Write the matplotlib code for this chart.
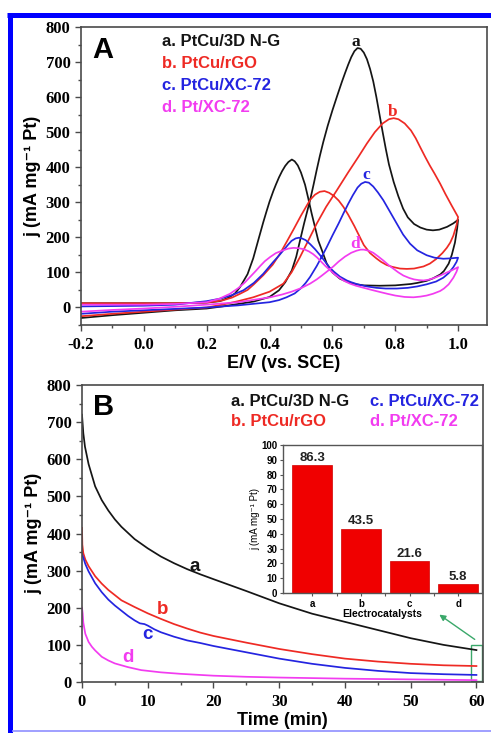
import matplotlib
matplotlib.use("Agg")
import matplotlib.pyplot as plt
from matplotlib.patches import Rectangle, FancyArrowPatch
from matplotlib.lines import Line2D
from matplotlib.ticker import MultipleLocator, FixedLocator

# ---------------- Panel A data (cyclic voltammograms: forward then backward scan) ----------------
a_E = [-0.2, -0.1, 0.0, 0.1, 0.2, 0.25, 0.3, 0.35, 0.4, 0.43, 0.45, 0.471, 0.485, 0.497, 0.51, 0.529, 0.54,
       0.55, 0.56, 0.571, 0.585, 0.6, 0.615, 0.63, 0.64, 0.65, 0.66, 0.67, 0.68, 0.69, 0.7, 0.71,
       0.72, 0.73, 0.74, 0.75, 0.76, 0.77, 0.78, 0.795, 0.81, 0.825, 0.84, 0.86, 0.88, 0.9, 0.92, 0.94,
       0.965, 0.985, 1.0,
       0.997, 0.99, 0.98, 0.97, 0.955, 0.943, 0.92, 0.9, 0.87, 0.85, 0.8, 0.75, 0.7, 0.677, 0.65, 0.624,
       0.6, 0.582, 0.57, 0.555, 0.545, 0.534, 0.523, 0.513, 0.5, 0.49, 0.48, 0.471, 0.46, 0.45, 0.44,
       0.43, 0.42, 0.412, 0.4, 0.39, 0.38, 0.365, 0.348, 0.33, 0.306, 0.29, 0.27, 0.242, 0.2, 0.1, 0.0,
       -0.1, -0.2]
a_j = [-30, -22, -15, -8, -3, 3, 10, 17, 30, 49, 72, 106, 145, 191, 240, 306, 350,
       392, 432, 472, 518, 562, 603, 643, 668, 692, 714, 731, 740, 738, 727, 708,
       680, 645, 600, 550, 500, 452, 408, 358, 317, 282, 257, 238, 228, 222, 220, 222,
       230, 240, 250,
       225, 185, 150, 125, 104, 94, 83, 76, 70, 67, 63, 62, 63, 66, 72, 82,
       100, 125, 155, 191, 228, 268, 312, 350, 385, 405, 417, 422, 415, 404, 389,
       371, 350, 332, 302, 273, 243, 195, 140, 95, 58, 40, 28, 18, 14, 12, 12,
       12, 12]

b_E = [-0.2, -0.1, 0.0, 0.1, 0.2, 0.25, 0.3, 0.348, 0.4, 0.444, 0.47, 0.497, 0.52, 0.55, 0.58, 0.614,
       0.65, 0.683, 0.71, 0.735, 0.76, 0.78, 0.795, 0.81, 0.83, 0.85, 0.865, 0.879, 0.895, 0.91, 0.925,
       0.943, 0.96, 0.98, 1.0,
       0.995, 0.985, 0.975, 0.964, 0.95, 0.93, 0.91, 0.89, 0.86, 0.837, 0.815, 0.79, 0.773, 0.755, 0.74,
       0.72, 0.7, 0.685, 0.67, 0.65, 0.635, 0.62, 0.605, 0.59, 0.575, 0.56, 0.545, 0.53, 0.518, 0.5,
       0.476, 0.455, 0.433, 0.41, 0.38, 0.35, 0.33, 0.306, 0.28, 0.25, 0.2, 0.1, 0.0, -0.1, -0.2]
b_j = [-25, -18, -12, -6, 0, 8, 18, 29, 45, 68, 100, 144, 185, 239, 287, 334,
       385, 430, 468, 500, 525, 537, 540, 537, 525, 505, 483, 458, 430, 405, 382,
       353, 323, 290, 258,
       235, 205, 185, 170, 155, 138, 125, 117, 111, 110, 111, 116, 121, 130, 140,
       155, 178, 205, 232, 265, 287, 305, 318, 327, 332, 330, 322, 308, 290, 262,
       222, 188, 153, 122, 92, 66, 50, 39, 28, 20, 14, 12, 12, 12, 12]

c_E = [-0.2, -0.1, 0.0, 0.1, 0.2, 0.3, 0.4, 0.43, 0.454, 0.48, 0.5, 0.515, 0.529, 0.55, 0.565, 0.582,
       0.6, 0.62, 0.635, 0.65, 0.665, 0.68, 0.692, 0.704, 0.716, 0.73, 0.745, 0.762, 0.78, 0.805, 0.825,
       0.847, 0.87, 0.9, 0.925, 0.953, 0.975, 1.0,
       0.995, 0.985, 0.97, 0.953, 0.93, 0.9, 0.87, 0.84, 0.805, 0.77, 0.74, 0.71, 0.68, 0.66, 0.646,
       0.624, 0.605, 0.59, 0.575, 0.56, 0.545, 0.53, 0.515, 0.503, 0.494, 0.483, 0.47, 0.458, 0.444,
       0.43, 0.41, 0.38, 0.35, 0.317, 0.28, 0.242, 0.2, 0.1, 0.0, -0.1, -0.2]
c_j = [-18, -12, -8, -4, 0, 6, 15, 21, 29, 40, 55, 70, 87, 118, 143, 172,
       205, 240, 268, 295, 320, 342, 353, 358, 356, 345, 328, 306, 278, 239, 208,
       182, 163, 149, 142, 139, 140, 142,
       130, 115, 98, 85, 74, 66, 60, 56, 54, 54, 56, 60, 66, 72, 77,
       88, 102, 115, 133, 150, 166, 180, 192, 197, 199, 197, 190, 178, 163,
       148, 128, 96, 70, 49, 35, 25, 18, 8, 5, 4, 3]

d_E = [-0.2, -0.1, 0.0, 0.1, 0.2, 0.3, 0.402, 0.44, 0.47, 0.5, 0.529, 0.55, 0.565, 0.585, 0.603, 0.62,
       0.64, 0.66, 0.677, 0.69, 0.7, 0.715, 0.73, 0.745, 0.762, 0.78, 0.795, 0.81, 0.826, 0.845, 0.86,
       0.875, 0.89, 0.905, 0.92, 0.94, 0.96, 0.98, 1.0,
       0.995, 0.985, 0.97, 0.955, 0.943, 0.92, 0.9, 0.88, 0.858, 0.83, 0.8, 0.775, 0.752, 0.725, 0.7,
       0.675, 0.656, 0.637, 0.62, 0.605, 0.593, 0.578, 0.565, 0.552, 0.539, 0.525, 0.51, 0.493, 0.476,
       0.46, 0.44, 0.42, 0.402, 0.385, 0.37, 0.355, 0.338, 0.32, 0.3, 0.274, 0.24, 0.2, 0.1, 0.0, -0.1,
       -0.2]
d_j = [-12, -7, -3, 2, 8, 15, 29, 37, 45, 55, 68, 80, 90, 104, 117, 131,
       145, 156, 162, 165, 165, 162, 156, 146, 134, 120, 110, 100, 91, 84, 80,
       78, 77, 79, 83, 90, 98, 106, 115,
       102, 85, 66, 54, 47, 39, 34, 31, 29, 30, 34, 39, 44, 50, 56,
       62, 68, 76, 86, 96, 106, 118, 130, 142, 152, 160, 166, 169, 170,
       168, 162, 155, 144, 132, 118, 103, 87, 70, 55, 39, 25, 15, 10, 8, 8,
       8]

legend_labels = ["a. PtCu/3D N-G", "b. PtCu/rGO", "c. PtCu/XC-72", "d. Pt/XC-72"]
curve_letters = ["a", "b", "c", "d"]

# ---------------- Panel B data (chronoamperometry) ----------------
ta = [0, 0.2, 0.45, 1, 2, 3, 4, 5, 6, 8, 10, 12, 14, 16, 18, 20, 25, 30, 35, 40, 45, 50, 55, 60]
ja = [720, 670, 634, 587, 527, 490, 462, 438, 418, 385, 360, 338, 320, 304, 290, 277, 245, 212, 184,
      162, 140, 118, 100, 86]
tb = [0, 0.05, 0.2, 0.5, 1, 2, 3, 4, 6, 8, 10, 12, 14, 16, 18, 20, 25, 30, 35, 40, 45, 50, 55, 60]
jb = [415, 370, 347, 330, 312, 285, 265, 248, 220, 202, 185, 170, 156, 144, 133, 124, 106, 89, 75,
      63, 55, 49, 45, 43]
tc = [0, 0.2, 0.5, 1, 2, 3, 4, 5, 6, 7, 8, 8.8, 9.5, 10, 11, 12, 14, 16, 18, 20, 25, 30, 35, 40, 45,
      50, 55, 60]
jc = [345, 335, 318, 298, 266, 242, 222, 206, 192, 178, 166, 158, 156, 152, 142, 134, 122, 112, 105,
      97, 80, 63, 49, 38, 30, 24, 21, 19]
td = [0, 0.1, 0.2, 0.5, 1, 1.5, 2, 3, 4, 5, 7, 9, 12, 15, 20, 25, 30, 40, 50, 60]
jd = [200, 185, 160, 130, 108, 95, 85, 68, 58, 50, 40, 32, 26, 22, 17, 14, 12, 9, 7, 5]

# ---------------- Inset data ----------------
inset_cats = ["a", "b", "c", "d"]
inset_vals = [86.3, 43.5, 21.6, 5.8]

colors = ["#151515", "#ee2a24", "#2424e0", "#f23cf0"]
spine_col = "#4a4a4a"

W, H = 491, 733
fig = plt.figure(figsize=(W / 100, H / 100), dpi=100)

serif = "Liberation Serif"
sans = ["Liberation Sans", "DejaVu Sans"]
ylab_text = "j (mA mg\u207b\u00b9 Pt)"


def style_axes(ax):
    for s in ax.spines.values():
        s.set_color(spine_col)
        s.set_linewidth(1.2)
    ax.tick_params(which="both", direction="out", color=spine_col, width=1.0)
    ax.tick_params(which="major", length=4)
    ax.tick_params(which="minor", length=2.5)
    ax.tick_params(axis="x", which="major", pad=5)
    for lab in ax.get_xticklabels() + ax.get_yticklabels():
        lab.set_fontfamily(serif)
        lab.set_fontweight("bold")
        lab.set_fontsize(12)


# ---------------- Panel A ----------------
axA = fig.add_axes([81 / W, 1 - 325 / H, 406 / W, 298 / H])
for E, j, c in zip([a_E, b_E, c_E, d_E], [a_j, b_j, c_j, d_j], colors):
    axA.plot(E, j, color=c, lw=1.25)
axA.set_xlim(-0.2, 1.092)
axA.set_ylim(-50, 800)
axA.xaxis.set_major_locator(FixedLocator([-0.2, 0.0, 0.2, 0.4, 0.6, 0.8, 1.0]))
axA.xaxis.set_minor_locator(FixedLocator([-0.1, 0.1, 0.3, 0.5, 0.7, 0.9]))
axA.yaxis.set_major_locator(MultipleLocator(100))
axA.yaxis.set_minor_locator(MultipleLocator(50))
axA.set_xticklabels(["-0.2", "0.0", "0.2", "0.4", "0.6", "0.8", "1.0"])
style_axes(axA)
axA.set_xlabel("E/V (vs. SCE)", fontfamily=sans, fontweight="bold", fontsize=13, labelpad=1)
axA.set_ylabel(ylab_text, fontfamily=sans, fontweight="bold", fontsize=13, labelpad=3)
axA.text(0.027, 0.923, "A", transform=axA.transAxes, fontfamily=sans, fontweight="bold",
         fontsize=21, va="center", ha="left")
for i, (lab, c) in enumerate(zip(legend_labels, colors)):
    axA.text(0.2, 0.95 - i * 0.073, lab, transform=axA.transAxes, color=c, fontfamily=sans,
             fontweight="bold", fontsize=12, va="center", ha="left")
letter_pos_A = [(0.675, 758), (0.792, 558), (0.709, 377), (0.672, 182)]
for (x, y), l, c in zip(letter_pos_A, curve_letters, colors):
    axA.text(x, y, l, color=c, fontfamily=serif, fontweight="bold", fontsize=12.5, ha="center",
             va="center")

# ---------------- Panel B ----------------
axB = fig.add_axes([82 / W, 1 - 682 / H, 401 / W, 297 / H])
for t, j, c in zip([ta, tb, tc, td], [ja, jb, jc, jd], colors):
    axB.plot(t, j, color=c, lw=1.25)
axB.set_xlim(0, 61)
axB.set_ylim(0, 800)
axB.xaxis.set_major_locator(MultipleLocator(10))
axB.xaxis.set_minor_locator(MultipleLocator(5))
axB.yaxis.set_major_locator(MultipleLocator(100))
axB.yaxis.set_minor_locator(MultipleLocator(50))
style_axes(axB)
axB.set_xlabel("Time (min)", fontfamily=sans, fontweight="bold", fontsize=13, labelpad=1)
axB.set_ylabel(ylab_text, fontfamily=sans, fontweight="bold", fontsize=13, labelpad=3)
axB.text(0.027, 0.925, "B", transform=axB.transAxes, fontfamily=sans, fontweight="bold",
         fontsize=21, va="center", ha="left")
leg_xy_B = [(231, 401), (231, 422), (370, 401), (370, 422)]
for (px, py), lab, c in zip(leg_xy_B, legend_labels, colors):
    fig.text(px / W, 1 - py / H, lab, color=c, fontfamily=sans, fontweight="bold", fontsize=12,
             va="center", ha="left")
letter_pos_B = [(17.2, 310), (12.3, 194), (9.9, 127), (7.0, 65)]
for (x, y), l, c in zip(letter_pos_B, curve_letters, colors):
    axB.text(x, y, l, color=c, fontfamily=sans, fontweight="bold", fontsize=13.5, ha="center",
             va="center")

# green highlight box and arrow
axB.add_patch(Rectangle((59.1, 3), 1.8, 98, fill=False, edgecolor="#3aa86a", lw=1.0, clip_on=False))
arrow = FancyArrowPatch((477 / W, 1 - 641 / H), (437 / W, 1 - 613 / H), transform=fig.transFigure,
                        arrowstyle="-|>", mutation_scale=9, color="#3aa86a", lw=1.0)
fig.patches.append(arrow)

# ---------------- Inset ----------------
axI = fig.add_axes([283 / W, 1 - 593 / H, 199 / W, 148 / H])
xs = list(range(len(inset_cats)))
axI.bar(xs, inset_vals, width=0.81, color="#f00000", edgecolor="#d00000", lw=0.5)
for x, v in zip(xs, inset_vals):
    axI.text(x, v + 0.8, f"{v}", ha="center", va="bottom", fontfamily=sans, fontweight="bold",
             fontsize=9.5, color="#222222")
axI.set_xlim(-0.6, 3.49)
axI.set_ylim(0, 100)
axI.set_xticks(xs)
axI.set_xticklabels(inset_cats)
axI.xaxis.set_minor_locator(FixedLocator([0.5, 1.5, 2.5]))
axI.yaxis.set_major_locator(MultipleLocator(10))
for s in axI.spines.values():
    s.set_color("#555555")
    s.set_linewidth(1.0)
axI.tick_params(which="both", direction="out", color="#555555", width=0.8, length=2.5, pad=1.5,
                labelsize=7)
for lab in axI.get_xticklabels() + axI.get_yticklabels():
    lab.set_fontfamily(sans)
    lab.set_fontweight("bold")
axI.set_xlabel("Electrocatalysts", fontfamily=sans, fontweight="bold", fontsize=7.5, labelpad=0)
axI.set_ylabel(ylab_text, fontfamily=sans, fontsize=7, labelpad=1)

# ---------------- blue frame (left, top, bottom edges; right edge cropped) ----------------
fig.add_artist(Line2D([9.5 / W, 9.5 / W], [0, 1 - 14.5 / H], transform=fig.transFigure,
                      color="#0000ff", lw=3.6, solid_capstyle="butt"))
fig.add_artist(Line2D([7 / W, 1.0], [1 - 14.5 / H, 1 - 14.5 / H], transform=fig.transFigure,
                      color="#0000ff", lw=3.6, solid_capstyle="butt"))
fig.add_artist(Line2D([12 / W, 1.0], [1 - 731 / H, 1 - 731 / H], transform=fig.transFigure,
                      color="#8f8fff", lw=1.2, solid_capstyle="butt"))

fig.savefig("out.png", dpi=100)
